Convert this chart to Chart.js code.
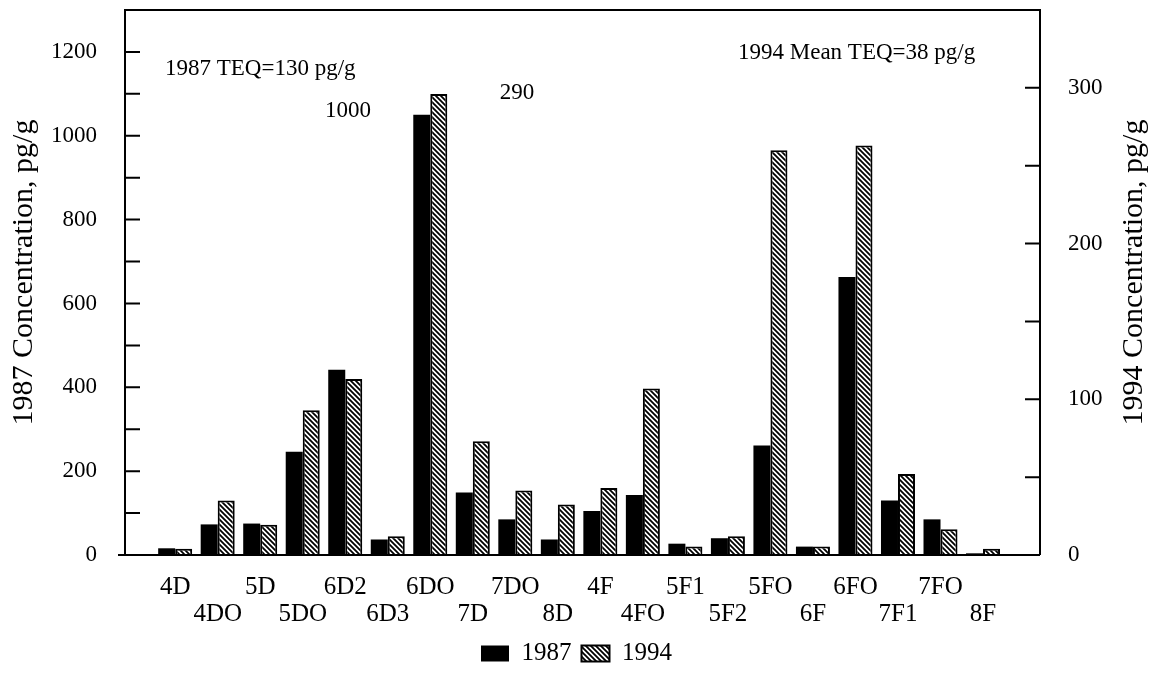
<!DOCTYPE html>
<html>
<head>
<meta charset="utf-8">
<script src="https://cdn.jsdelivr.net/npm/chart.js@4.4.1/dist/chart.umd.min.js"></script>
<style>
  html, body { margin: 0; padding: 0; background: #fff; }
  #wrap { width: 1153px; height: 687px; position: relative; }
</style>
</head>
<body>
<div id="wrap"><canvas id="chart"></canvas></div>
<script>
// カテゴリと値
const categories = ['4D', '4DO', '5D', '5DO', '6D2', '6D3', '6DO', '7D', '7DO', '8D',
                    '4F', '4FO', '5F1', '5F2', '5FO', '6F', '6FO', '7F1', '7FO', '8F'];
const values1987 = [16, 73, 75, 246, 442, 37, 1050, 149, 85, 37,
                    105, 143, 27, 40, 261, 20, 663, 130, 85, 4];
const values1994 = [4, 35, 19.5, 93, 113, 12, 296, 73, 41.5, 32.5,
                    43, 107, 5.4, 12, 260, 5.4, 263, 52, 16.5, 4];
const leftTicks  = [0, 200, 400, 600, 800, 1000, 1200];
const rightTicks = [0, 100, 200, 300];

const serif = "'Liberation Serif', 'DejaVu Serif', serif";

const canvas = document.getElementById('chart');
const ctx = canvas.getContext('2d');

// 斜線パターン
function makeHatch() {
  const s = 5;
  const c = document.createElement('canvas');
  c.width = s; c.height = s;
  const g = c.getContext('2d');
  g.fillStyle = '#fff';
  g.fillRect(0, 0, s, s);
  g.strokeStyle = '#000';
  g.lineWidth = 1.8;
  g.beginPath();
  g.moveTo(-1, -1); g.lineTo(s + 1, s + 1);
  g.moveTo(-1, s - 1); g.lineTo(1, s + 1);
  g.moveTo(s - 1, -1); g.lineTo(s + 1, 1);
  g.stroke();
  return ctx.createPattern(c, 'repeat');
}
const hatch = makeHatch();

// 枠線・内向き目盛り・軸タイトル・注記
const framePlugin = {
  id: 'frame',
  afterDraw(chart) {
    const {ctx, chartArea: a, scales} = chart;
    ctx.save();
    ctx.strokeStyle = '#000';
    ctx.lineWidth = 2;
    ctx.beginPath();
    ctx.moveTo(a.left - 7, a.bottom); ctx.lineTo(a.right, a.bottom);
    ctx.moveTo(a.left, a.bottom); ctx.lineTo(a.left, a.top);
    ctx.lineTo(a.right, a.top); ctx.lineTo(a.right, a.bottom);
    ctx.stroke();

    // 目盛り
    ctx.beginPath();
    for (let v = 100; v <= 1200; v += 100) {
      const y = scales.y.getPixelForValue(v);
      ctx.moveTo(a.left, y); ctx.lineTo(a.left + 15, y);
    }
    for (let v = 50; v <= 300; v += 50) {
      const y = scales.y1.getPixelForValue(v);
      ctx.moveTo(a.right, y); ctx.lineTo(a.right - 15, y);
    }
    ctx.stroke();

    // 軸タイトル
    ctx.fillStyle = '#000';
    ctx.font = `30px ${serif}`;
    ctx.textAlign = 'center';
    ctx.textBaseline = 'middle';
    const cy = (a.top + a.bottom) / 2 - 10;
    [[24, '1987 Concentration, pg/g'], [1134, '1994 Concentration, pg/g']].forEach(([x, t]) => {
      ctx.save();
      ctx.translate(x, cy);
      ctx.rotate(-Math.PI / 2);
      ctx.fillText(t, 0, 0);
      ctx.restore();
    });

    // 注記
    ctx.font = `23px ${serif}`;
    ctx.textAlign = 'left';
    ctx.fillText('1987 TEQ=130 pg/g', 165, 69);
    ctx.fillText('1994 Mean TEQ=38 pg/g', 738, 53);
    ctx.textAlign = 'center';
    ctx.fillText('1000', 348, 111);
    ctx.fillText('290', 517, 93);
    ctx.restore();
  }
};

new Chart(ctx, {
  type: 'bar',
  data: {
    datasets: [
      {
        label: '1987',
        data: values1987.map((v, i) => ({x: i, y: v})),
        yAxisID: 'y',
        backgroundColor: '#000',
        borderColor: '#000',
        borderWidth: 0,
        categoryPercentage: 0.8,
        barPercentage: 1.0
      },
      {
        label: '1994',
        data: values1994.map((v, i) => ({x: i, y: v})),
        yAxisID: 'y1',
        backgroundColor: hatch,
        borderColor: '#000',
        borderWidth: 2,
        categoryPercentage: 0.8,
        barPercentage: 1.0
      }
    ]
  },
  options: {
    responsive: true,
    maintainAspectRatio: false,
    animation: false,
    layout: { padding: { top: 10, bottom: 11, left: 0, right: 0 } },
    plugins: {
      title: { display: false },
      tooltip: { enabled: false },
      legend: {
        display: true,
        position: 'bottom',
        labels: {
          color: '#000',
          font: { family: serif, size: 25 },
          boxWidth: 28,
          boxHeight: 16,
          padding: 10
        }
      }
    },
    scales: {
      x: {
        type: 'linear',
        min: -1.18,
        max: 20.34,
        offset: false,
        grid: { display: false },
        border: { display: false },
        ticks: {
          stepSize: 1,
          autoSkip: false,
          maxRotation: 0,
          includeBounds: false,
          padding: 11,
          color: '#000',
          font: { family: serif, size: 25, lineHeight: 1.08 },
          callback: function(value) {
            if (!Number.isInteger(value) || value < 0 || value >= categories.length) return '';
            return value % 2 === 0 ? categories[value] : ['', categories[value]];
          }
        },
        afterFit: s => { s.height = 76; }
      },
      y: {
        position: 'left',
        min: 0,
        max: 1300,
        grid: { display: false },
        border: { display: false },
        ticks: {
          stepSize: 200,
          includeBounds: false,
          padding: 20,
          color: '#000',
          font: { family: serif, size: 23 },
          callback: v => leftTicks.includes(v) ? String(v) : ''
        },
        afterFit: s => { s.width = 125; s.paddingTop = 0; s.paddingBottom = 0; }
      },
      y1: {
        position: 'right',
        min: 0,
        max: 350,
        grid: { display: false },
        border: { display: false },
        ticks: {
          stepSize: 100,
          includeBounds: false,
          padding: 20,
          color: '#000',
          font: { family: serif, size: 23 },
          callback: v => rightTicks.includes(v) ? String(v) : ''
        },
        afterFit: s => { s.width = 113; s.paddingTop = 0; s.paddingBottom = 0; }
      }
    }
  },
  plugins: [framePlugin]
});
</script>
</body>
</html>
